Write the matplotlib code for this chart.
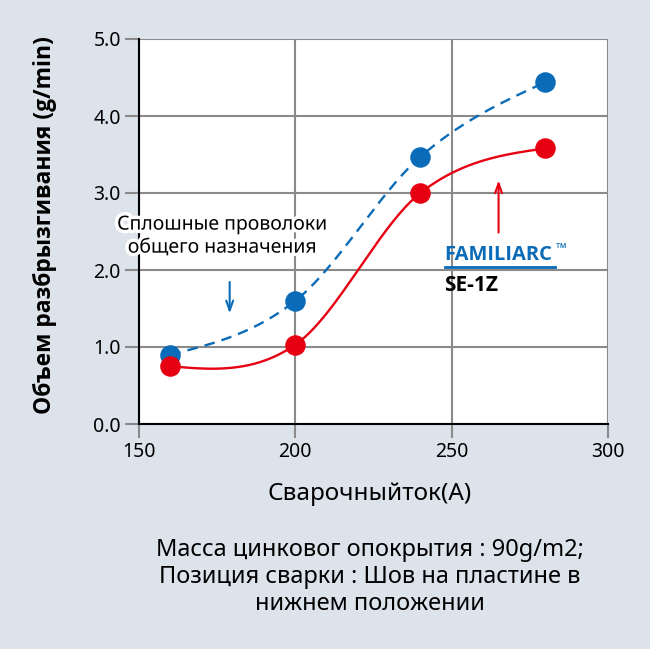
import numpy as np
import matplotlib.pyplot as plt
import matplotlib.patheffects as pe
from matplotlib.patches import Rectangle

current = [160, 200, 240, 280]
solid_wire = [0.90, 1.60, 3.47, 4.44]
se1z = [0.75, 1.03, 3.00, 3.58]
x_ticks = [150, 200, 250, 300]
y_ticks = [0.0, 1.0, 2.0, 3.0, 4.0, 5.0]

bg = '#dde3eb'
blue = '#0a6cb8'
red = '#e60012'
grid_c = '#8a8a8a'


def smooth(x, y, n=200):
    # cubic hermite through the points (catmull-rom inside, natural-like ends)
    x = np.asarray(x, float)
    y = np.asarray(y, float)
    d = np.diff(y) / np.diff(x)
    m = np.zeros(len(x))
    m[1:-1] = (y[2:] - y[:-2]) / (x[2:] - x[:-2])
    m[0] = (3 * d[0] - m[1]) / 2
    m[-1] = (3 * d[-1] - m[-2]) / 2
    xs = np.linspace(x[0], x[-1], n)
    k = np.clip(np.searchsorted(x, xs) - 1, 0, len(x) - 2)
    h = x[k + 1] - x[k]
    t = (xs - x[k]) / h
    ys = (2 * t**3 - 3 * t**2 + 1) * y[k] + (t**3 - 2 * t**2 + t) * h * m[k] \
        + (-2 * t**3 + 3 * t**2) * y[k + 1] + (t**3 - t**2) * h * m[k + 1]
    return xs, ys


plt.rcParams['font.family'] = ['Noto Sans', 'DejaVu Sans']
bold_font = ['Open Sans', 'DejaVu Sans']

fig = plt.figure(figsize=(6.5, 6.49), dpi=100, facecolor=bg)
ax = fig.add_axes([139 / 650, 1 - 424 / 649, 469 / 650, 385 / 649])
ax.set_facecolor('white')

ax.set_xlim(150, 300)
ax.set_ylim(0, 5)
ax.set_xticks(x_ticks)
ax.set_yticks(y_ticks)
ax.set_yticklabels(['%.1f' % v for v in y_ticks])
ax.grid(True, color=grid_c, linewidth=1.5, zorder=0)
ax.tick_params(axis='both', colors=grid_c, width=1.5, length=10, labelsize=14,
               labelcolor='black', pad=3)
for s in ['top', 'right']:
    ax.spines[s].set_visible(False)
ax.spines['left'].set_linewidth(1.5)
ax.spines['bottom'].set_linewidth(1.5)
ax.spines['left'].set_zorder(3)
ax.spines['bottom'].set_zorder(3)

xs, ys = smooth(current, solid_wire)
ax.plot(xs, ys, color=blue, linewidth=1.7, linestyle=(0, (4.5, 3)), zorder=2)
ax.scatter(current, solid_wire, s=190, color=blue, zorder=4, clip_on=False)

xs, ys = smooth(current, se1z)
ax.plot(xs, ys, color=red, linewidth=1.7, zorder=2)
ax.scatter(current, se1z, s=190, color=red, zorder=4, clip_on=False)

ax.text(176.5, 2.44, 'Сплошные проволоки\nобщего назначения', ha='center', va='center',
        fontsize=14, linespacing=1.2, zorder=5, clip_on=False,
        path_effects=[pe.withStroke(linewidth=5, foreground='white')])
ax.annotate('', xy=(179, 1.40), xytext=(179, 1.88),
            arrowprops=dict(arrowstyle='->,head_length=0.7,head_width=0.25',
                            color=blue, lw=1.5))
ax.annotate('', xy=(265, 3.2), xytext=(265, 2.45),
            arrowprops=dict(arrowstyle='->,head_length=0.7,head_width=0.25',
                            color=red, lw=1.5))

ax.add_patch(Rectangle((242.4, 1.61), 47.6, 0.81, facecolor='white',
                       edgecolor='none', zorder=1))
ax.text(247.6, 2.2, 'FAMILIARC', color=blue, fontsize=14.5, fontweight='bold',
        ha='left', va='center', zorder=5, family=bold_font)
ax.text(283.3, 2.27, '™', color=blue, fontsize=10, ha='left', va='center', zorder=5)
ax.plot([247.8, 283], [2.04, 2.04], color=blue, linewidth=2, zorder=6)
ax.text(247.6, 1.80, 'SE-1Z', color='black', fontsize=15, fontweight='bold',
        ha='left', va='center', zorder=5, family=bold_font)

fig.text(45 / 650, 1 - 225 / 649, 'Объем разбрызгивания (g/min)', rotation=90,
         ha='center', va='center', fontsize=16.5, fontweight='bold', family=bold_font)
fig.text(370 / 650, 1 - 494 / 649, 'Сварочныйток(А)', ha='center', va='center',
         fontsize=17.5)
fig.text(370 / 650, 1 - 577 / 649,
         'Масса цинковог опокрытия : 90g/m2;\nПозиция сварки : Шов на пластине в\nнижнем положении',
         ha='center', va='center', fontsize=17, linespacing=1.17)

fig.savefig('out.png', dpi=100, facecolor=bg)
